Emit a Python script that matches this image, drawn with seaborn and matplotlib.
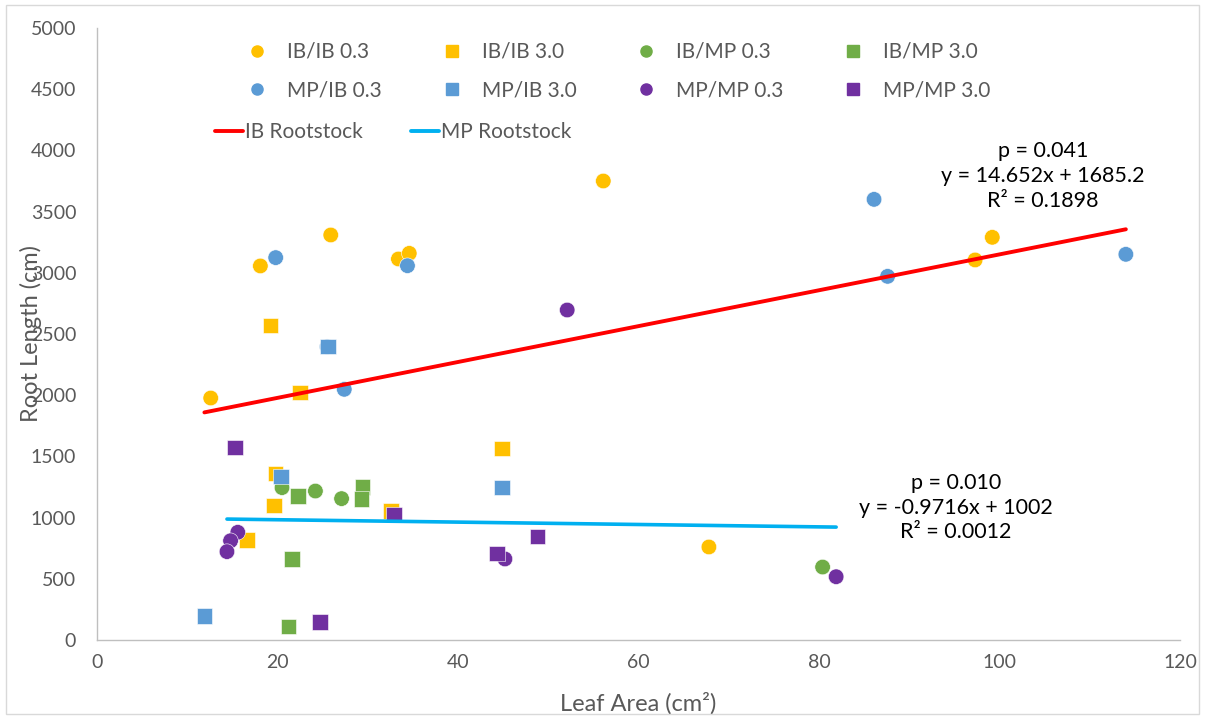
import matplotlib
matplotlib.use("Agg")
import matplotlib.pyplot as plt
import seaborn as sns
import numpy as np
import pandas as pd
from matplotlib.lines import Line2D
from matplotlib.patches import Rectangle

# ---------------- data ----------------
ibib03_x = [12.6, 18.1, 25.9, 33.4, 34.6, 56.1, 67.8, 97.3, 99.2]
ibib03_y = [1977, 3056, 3309, 3113, 3159, 3750, 760, 3105, 3290]

ibib30_x = [19.2, 22.5, 19.8, 19.6, 16.6, 32.6, 44.9]
ibib30_y = [2571, 2023, 1362, 1100, 817, 1054, 1566]

ibmp03_x = [20.5, 24.2, 27.1, 80.4]
ibmp03_y = [1245, 1217, 1155, 596]

ibmp30_x = [22.3, 29.4, 29.3, 21.6, 21.2]
ibmp30_y = [1176, 1248, 1152, 662, 112]

mpib03_x = [19.8, 34.4, 27.4, 25.5, 86.1, 87.6, 114.0]
mpib03_y = [3124, 3058, 2048, 2396, 3600, 2971, 3151]

mpib30_x = [25.6, 20.4, 11.9, 44.9]
mpib30_y = [2396, 1334, 196, 1245]

mpmp03_x = [15.6, 14.8, 14.4, 52.1, 45.2, 81.9]
mpmp03_y = [880, 811, 722, 2696, 662, 517]

mpmp30_x = [15.3, 32.9, 24.7, 44.3, 48.8]
mpmp30_y = [1574, 1027, 145, 708, 844]

series_names = ["IB/IB 0.3", "IB/IB 3.0", "IB/MP 0.3", "IB/MP 3.0",
                "MP/IB 0.3", "MP/IB 3.0", "MP/MP 0.3", "MP/MP 3.0"]

# trendline coefficients (from chart annotations)
ib_slope, ib_intercept = 14.652, 1685.2
mp_slope, mp_intercept = -0.9716, 1002.0
ib_label = ["p = 0.041", "y = 14.652x + 1685.2", "R² = 0.1898"]
mp_label = ["p = 0.010", "y = -0.9716x + 1002", "R² = 0.0012"]

x_ticks = [0, 20, 40, 60, 80, 100, 120]
y_ticks = list(range(0, 5001, 500))

# ---------------- styling ----------------
YELLOW = "#FFC000"
GREEN = "#70AD47"
BLUE = "#5B9BD5"
PURPLE = "#7030A0"
RED = "#FF0000"
CYAN = "#00B0F0"

sns.set_theme(style="white")
plt.rcParams["font.family"] = ["Lato", "DejaVu Sans"]

fig = plt.figure(figsize=(12.06, 7.18), dpi=100)
ax = fig.add_axes([97 / 1206, 1 - 640 / 718, (1180 - 97) / 1206, (640 - 28) / 718])

series = [
    (ibib03_x, ibib03_y, YELLOW, "o"),
    (ibib30_x, ibib30_y, YELLOW, "s"),
    (ibmp03_x, ibmp03_y, GREEN, "o"),
    (ibmp30_x, ibmp30_y, GREEN, "s"),
    (mpib03_x, mpib03_y, BLUE, "o"),
    (mpib30_x, mpib30_y, BLUE, "s"),
    (mpmp03_x, mpmp03_y, PURPLE, "o"),
    (mpmp30_x, mpmp30_y, PURPLE, "s"),
]

frames = []
for name, (xs, ys, c, m) in zip(series_names, series):
    frames.append(pd.DataFrame({"x": xs, "y": ys, "series": name}))
df = pd.concat(frames, ignore_index=True)

palette = {n: s[2] for n, s in zip(series_names, series)}
markers = {n: s[3] for n, s in zip(series_names, series)}

sns.scatterplot(data=df, x="x", y="y", hue="series", style="series",
                palette=palette, markers=markers, s=125,
                edgecolor="white", linewidth=0.4, ax=ax, legend=False, zorder=3)

# trendlines over data range of each rootstock
ib_x = np.array(ibib03_x + ibib30_x + mpib03_x + mpib30_x)
mp_x = np.array(ibmp03_x + ibmp30_x + mpmp03_x + mpmp30_x)
ib_line_x = np.array([ib_x.min(), ib_x.max()])
mp_line_x = np.array([mp_x.min(), mp_x.max()])
sns.lineplot(x=ib_line_x, y=ib_slope * ib_line_x + ib_intercept, color=RED,
             linewidth=2.8, ax=ax, zorder=4)
sns.lineplot(x=mp_line_x, y=mp_slope * mp_line_x + mp_intercept, color=CYAN,
             linewidth=2.6, ax=ax, zorder=4)

ax.set_xlim(0, 120)
ax.set_ylim(0, 5000)
ax.set_xticks(x_ticks)
ax.set_yticks(y_ticks)
ax.tick_params(axis="both", colors="#595959", labelsize=14, length=0)
ax.tick_params(axis="y", pad=15)
ax.tick_params(axis="x", pad=10)
for side in ["top", "right"]:
    ax.spines[side].set_visible(False)
for side in ["left", "bottom"]:
    ax.spines[side].set_color("#BFBFBF")
    ax.spines[side].set_linewidth(1.0)

ax.set_xlabel("Leaf Area (cm²)", fontsize=17, color="#595959")
ax.set_ylabel("Root Length (cm)", fontsize=17, color="#595959")
ax.xaxis.set_label_coords(0.5, -0.085)
ax.yaxis.set_label_coords(-0.051, 0.5)

# annotations
ax.text(104.8, 3790, "\n".join(ib_label), ha="center", va="center",
        fontsize=15.5, color="black", linespacing=1.3)
ax.text(95.2, 1081, "\n".join(mp_label), ha="center", va="center",
        fontsize=15.5, color="black", linespacing=1.3)

# legends (row-major order: IB scions in first row, MP scions in second)
order = [0, 4, 1, 5, 2, 6, 3, 7]
marker_handles = [Line2D([], [], linestyle="none", marker=series[i][3],
                         color=series[i][2], markersize=8, label=series_names[i])
                  for i in order]
leg1 = ax.legend(handles=marker_handles, ncol=4, loc="upper left",
                 bbox_to_anchor=((246.6 - 97) / 1083, (640 - 42) / 612),
                 frameon=False, fontsize=15, labelcolor="#595959",
                 borderaxespad=0, borderpad=0,
                 columnspacing=2.85, handletextpad=0.94, labelspacing=0.9,
                 handlelength=1.0)
ax.add_artist(leg1)
line_handles = [Line2D([], [], color=RED, linewidth=2.8, label="IB Rootstock"),
                Line2D([], [], color=CYAN, linewidth=2.8, label="MP Rootstock")]
ax.legend(handles=line_handles, ncol=2, loc="upper left",
          bbox_to_anchor=((215 - 97) / 1083, (640 - 122) / 612),
          frameon=False, fontsize=15, labelcolor="#595959",
          borderaxespad=0, borderpad=0,
          columnspacing=2.3, handletextpad=0.1, handlelength=1.35)

# outer border
fig.patches.append(Rectangle((6 / 1206, 4 / 718), 1193 / 1206, 709 / 718,
                             transform=fig.transFigure, fill=False,
                             edgecolor="#D9D9D9", linewidth=1.0))

fig.savefig("out.png", dpi=100)
